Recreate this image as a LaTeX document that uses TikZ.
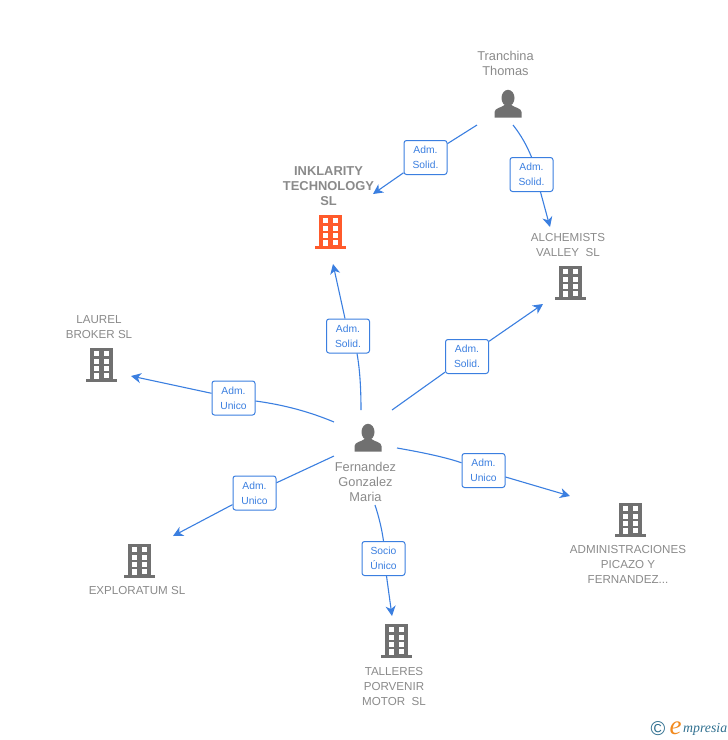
\documentclass[tikz,border=0pt]{standalone}
\usepackage{fontspec}
\setmainfont{Liberation Sans}
\newfontfamily\logofont{Liberation Serif}
\usetikzlibrary{arrows.meta}
\definecolor{linkblue}{HTML}{3B7FE0}
\definecolor{txtgrey}{HTML}{8A8A8A}
\definecolor{icongrey}{HTML}{707070}
\definecolor{mainorange}{HTML}{FF5A2B}
\definecolor{logoteal}{HTML}{2F6F8F}
\definecolor{logoorange}{HTML}{F28A1E}
\tikzset{
  x=1pt,y=-1pt,
  lab/.style={draw=linkblue,line width=1pt,fill=white,rounded corners=2.5pt,minimum width=43pt,minimum height=34pt,inner sep=0pt,align=center,text=linkblue,text depth=0pt,font=\fontsize{10.3}{15}\selectfont},
  ent/.style={text=txtgrey,align=center,inner sep=0pt,font=\fontsize{11.6}{15}\selectfont},
  pers/.style={text=txtgrey,align=center,inner sep=0pt,font=\fontsize{12.8}{15}\selectfont},
  entmain/.style={text=txtgrey,align=center,inner sep=0pt,font=\fontsize{12.9}{15}\selectfont\bfseries},
  conn/.style={draw=linkblue,line width=1.1pt},
  arrowed/.style={conn,-{Stealth[length=10pt,width=10pt,inset=3pt]}},
  pics/building/.style={code={
    \fill[#1] (-11.5,-17) rectangle (11.5,14);
    \fill[#1] (-15.5,14) rectangle (15.5,17);
    \foreach \wy in {-14,-6.5,1}{
      \fill[white] (-7.5,\wy) rectangle (-2.5,\wy+5);
      \fill[white] (2.5,\wy) rectangle (7.5,\wy+5);}
    \fill[white] (-7.5,8) rectangle (-2.5,14);
    \fill[white] (2.5,8) rectangle (7.5,12.5);
  }},
  pics/person/.style={code={
    \fill[icongrey] (0,-6) ellipse (6.5 and 8.2);
    \fill[icongrey] (-13.5,13.5) -- (-13.5,8) .. controls (-13.5,4) and (-6,3.5) .. (-3.5,1) -- (3.5,1) .. controls (6,3.5) and (13.5,4) .. (13.5,8) -- (13.5,13.5) -- cycle;
  }},
}
\begin{document}
\begin{tikzpicture}
\useasboundingbox (0,0) rectangle (728,740);
% icons
\pic at (330,232) {building=mainorange};
\pic at (570,283) {building=icongrey};
\pic at (101,365) {building=icongrey};
\pic at (139,561) {building=icongrey};
\pic at (396,641) {building=icongrey};
\pic at (630,520) {building=icongrey};
\pic at (508,104) {person};
\pic at (368,438) {person};
% entity names
\node[pers] (tranchina) at (505.5,63.5) {Tranchina\\Thomas};
\node[entmain] (inklarity) at (328.5,186) {INKLARITY\\TECHNOLOGY\\SL};
\node[ent] (alchemists) at (568,245) {ALCHEMISTS\\VALLEY\ \ SL};
\node[ent] (laurel) at (99,327) {LAUREL\\BROKER SL};
\node[pers] (fernandez) at (365.5,481.5) {Fernandez\\Gonzalez\\Maria};
\node[ent] (exploratum) at (137,590.5) {EXPLORATUM SL};
\node[ent] (talleres) at (394,686.5) {TALLERES\\PORVENIR\\MOTOR\ \ SL};
\node[ent] (admin) at (628,564.5) {ADMINISTRACIONES\\PICAZO Y\\FERNANDEZ...};
% connector labels
\node[lab] (l1) at (425.5,157.5) {Adm.\\Solid.};
\node[lab] (l2) at (531.5,174.5) {Adm.\\Solid.};
\node[lab] (l3) at (348,336) {Adm.\\Solid.};
\node[lab] (l4) at (467,356.5) {Adm.\\Solid.};
\node[lab] (l5) at (233.5,398) {Adm.\\Unico};
\node[lab] (l6) at (254.5,493) {Adm.\\Unico};
\node[lab] (l7) at (383.5,558.5) {Socio\\Único};
\node[lab] (l8) at (483.5,470.5) {Adm.\\Unico};
% free ends
\coordinate (s1) at (477,125); \coordinate (e1) at (373,194);
\coordinate (s2) at (513,125); \coordinate (e2) at (550,227);
\coordinate (s3) at (361,410); \coordinate (e3) at (333,264);
\coordinate (s4) at (392,410); \coordinate (e4) at (543,304);
\coordinate (s5) at (334,422); \coordinate (e5) at (131,376);
\coordinate (s6) at (334,456); \coordinate (e6) at (173,536);
\coordinate (s7) at (375,505); \coordinate (e7) at (392,616);
\coordinate (s8) at (397,448); \coordinate (e8) at (570,496);
% connectors
\draw[conn] (s1) -- (l1);
\draw[arrowed] (l1) -- (e1);
\draw[conn] (s2) .. controls (521,135) and (527,146) .. (l2.north);
\draw[arrowed] (l2.south) ++(9,0) -- (e2);
\draw[conn] (s3) .. controls (361,390) and (360,370) .. ([xshift=9pt]l3.south);
\draw[arrowed] (l3.north) ++(-3,0) -- (e3);
\draw[conn] (s4) -- (l4);
\draw[arrowed] (l4) -- (e4);
\draw[conn] (s5) .. controls (310,412) and (285,405) .. (l5);
\draw[arrowed] (l5) -- (e5);
\draw[conn] (s6) -- (l6);
\draw[arrowed] (l6) -- (e6);
\draw[conn] (s7) .. controls (379,517) and (382,530) .. (l7.north);
\draw[arrowed] (l7.south) ++(3,0) -- (e7);
\draw[conn] (s8) .. controls (420,452) and (445,457) .. (l8);
\draw[arrowed] (l8) -- (e8);
% logo
\node[text=logoteal,inner sep=0pt,font=\fontsize{20}{20}\selectfont] (copy) at (658,729) {©};
\node[text=logoorange,inner sep=0pt,font=\logofont\itshape\fontsize{27}{27}\selectfont] (logoe) at (675.5,728) {e};
\node[text=logoteal,inner sep=0pt,anchor=west,font=\logofont\itshape\fontsize{13.8}{13.8}\selectfont] (logotxt) at (683,729.5) {mpresia};
\end{tikzpicture}
\end{document}
